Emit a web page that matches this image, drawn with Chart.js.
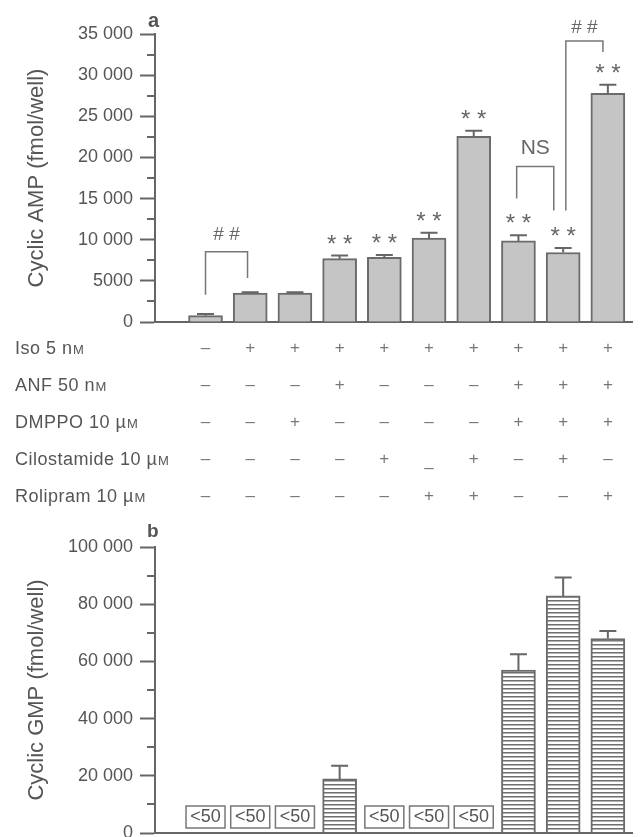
<!DOCTYPE html>
<html><head><meta charset="utf-8">
<script src="https://cdn.jsdelivr.net/npm/chart.js@4"></script>
<style>
html,body{margin:0;padding:0;background:#fff;overflow:hidden;width:642px;height:837px;}
#wrap{position:relative;width:642px;height:837px;overflow:hidden;}
canvas{position:absolute;left:0;top:0;}
</style></head><body>
<div id="wrap">
<canvas id="ca" width="642" height="520"></canvas>
<canvas id="cb" width="642" height="860"></canvas>
</div>
<script>
// ---------------- data ----------------
const groups = [1, 2, 3, 4, 5, 6, 7, 8, 9, 10];
const cAMP    = [770, 3500, 3500, 7700, 7850, 10200, 22550, 9850, 8450, 27800];
const cAMPsem = [200, 120, 120, 380, 290, 650, 690, 690, 530, 1020];
const cAMPsig = ['', '', '', '* *', '* *', '* *', '* *', '* *', '* *', '* *'];
const cGMP    = [null, null, null, 18900, null, null, null, 57000, 82900, 68000];
const cGMPsem = [0, 0, 0, 4600, 0, 0, 0, 5500, 6400, 2600];
const cGMPnote = ['<50', '<50', '<50', '', '<50', '<50', '<50', '', '', ''];

const rowLabels = [['Iso 5 n', 'M'], ['ANF 50 n', 'M'], ['DMPPO 10 \u00b5', 'M'], ['Cilostamide 10 \u00b5', 'M'], ['Rolipram 10 \u00b5', 'M']];
const rowIso   = ['-', '+', '+', '+', '+', '+', '+', '+', '+', '+'];
const rowANF   = ['-', '-', '-', '+', '-', '-', '-', '+', '+', '+'];
const rowDMPPO = ['-', '-', '+', '-', '-', '-', '-', '+', '+', '+'];
const rowCilo  = ['-', '-', '-', '-', '+', '_', '+', '-', '+', '-'];
const rowRoli  = ['-', '-', '-', '-', '-', '+', '+', '-', '-', '+'];

const yTicksA = [0, 5000, 10000, 15000, 20000, 25000, 30000, 35000];
const yTickLabelsA = ['0', '5000', '10 000', '15 000', '20 000', '25 000', '30 000', '35 000'];
const yTicksB = [0, 20000, 40000, 60000, 80000, 100000];
const yTickLabelsB = ['0', '20 000', '40 000', '60 000', '80 000', '100 000'];

// comparison brackets (x in group index units, y in data units)
const bracketsA = [
  {x1: 0.0, x2: 0.94, yl: 3300, yt: 8550, yr: 5350, text: '# #', dy: 17, size: 19},
  {x1: 6.96, x2: 7.79, yl: 15000, yt: 18900, yr: 13550, text: 'NS', dy: 18, size: 21},
  {x1: 8.06, x2: 8.89, yl: 13550, yt: 34150, yr: 32800, text: '# #', dy: 13, size: 19}
];

// ---------------- styling / helpers ----------------
const FONT = "'Liberation Sans', Arial, Helvetica, sans-serif";
Chart.defaults.font.family = FONT;
Chart.defaults.color = '#555';
const AX = '#666';

function yAxis(max, step, ticksArr, labelsArr, title) {
  return {
    min: 0, max: max,
    afterFit(s) { s.width = 155; },
    border: {display: true, color: AX, width: 2},
    grid: {display: true, drawOnChartArea: false, drawTicks: true, tickLength: 15, tickWidth: 2,
      tickColor: c => (c.tick && ticksArr.includes(c.tick.value)) ? AX : 'rgba(0,0,0,0)'},
    ticks: {stepSize: step, autoSkip: false, padding: 7, color: '#555', font: {size: 18},
      callback: v => { const i = ticksArr.indexOf(v); return i >= 0 ? labelsArr[i] : ''; }},
    title: {display: true, text: title, color: '#555', font: {size: 22}, padding: {top: 24, bottom: 0}}
  };
}
function xAxis() {
  return {
    type: 'linear', min: -1.13, max: 9.54, offset: false,
    afterFit(s) { s.height = 0; },
    border: {display: true, color: AX, width: 2},
    grid: {display: false, offset: false}, ticks: {display: false}
  };
}
function minorTicks(ticksArr) {
  return {id: 'minor', afterDraw(chart) {
    const s = chart.scales.y, ctx = chart.ctx;
    ctx.save(); ctx.strokeStyle = AX; ctx.lineWidth = 2;
    s.ticks.forEach(t => {
      if (ticksArr.includes(t.value)) return;
      const y = Math.round(s.getPixelForValue(t.value));
      ctx.beginPath(); ctx.moveTo(s.right - 8, y); ctx.lineTo(s.right, y); ctx.stroke();
    });
    ctx.restore();
  }};
}
function errorBars(values, sem) {
  return {id: 'errbars', afterDatasetsDraw(chart) {
    const meta = chart.getDatasetMeta(0), ys = chart.scales.y, ctx = chart.ctx;
    ctx.save(); ctx.strokeStyle = AX; ctx.lineWidth = 2;
    meta.data.forEach((bar, i) => {
      if (values[i] == null || !sem[i]) return;
      const yt = ys.getPixelForValue(values[i] + sem[i]);
      ctx.beginPath();
      ctx.moveTo(bar.x, bar.y); ctx.lineTo(bar.x, yt);
      ctx.moveTo(bar.x - 8.5, yt); ctx.lineTo(bar.x + 8.5, yt);
      ctx.stroke();
    });
    ctx.restore();
  }};
}
function stripePattern() {
  const c = document.createElement('canvas'); c.width = 8; c.height = 4;
  const g = c.getContext('2d');
  g.fillStyle = '#fff'; g.fillRect(0, 0, 8, 4);
  g.fillStyle = '#6f6f6f'; g.fillRect(0, 0, 8, 1);
  g.fillStyle = '#b5b5b5'; g.fillRect(0, 1, 8, 1);
  return document.getElementById('cb').getContext('2d').createPattern(c, 'repeat');
}

// ---------------- panel a ----------------
const annotA = {id: 'annotA', afterDraw(chart) {
  const ctx = chart.ctx, xs = chart.scales.x, ys = chart.scales.y;
  ctx.save();
  // significance stars
  ctx.fillStyle = '#666'; ctx.textAlign = 'center'; ctx.textBaseline = 'alphabetic';
  ctx.font = '24px ' + FONT;
  groups.forEach((g, i) => {
    if (!cAMPsig[i]) return;
    const yt = ys.getPixelForValue(cAMP[i] + cAMPsem[i]);
    ctx.fillText(cAMPsig[i], xs.getPixelForValue(i), yt - 4);
  });
  // brackets
  ctx.strokeStyle = '#777'; ctx.lineWidth = 1.5;
  bracketsA.forEach(b => {
    const x1 = xs.getPixelForValue(b.x1), x2 = xs.getPixelForValue(b.x2);
    const yt = ys.getPixelForValue(b.yt);
    ctx.beginPath();
    ctx.moveTo(x1, ys.getPixelForValue(b.yl)); ctx.lineTo(x1, yt);
    ctx.lineTo(x2, yt); ctx.lineTo(x2, ys.getPixelForValue(b.yr));
    ctx.stroke();
    ctx.font = b.size + 'px ' + FONT; ctx.textBaseline = 'middle'; ctx.fillStyle = '#666';
    ctx.fillText(b.text, (x1 + x2) / 2, yt - b.dy);
  });
  // panel letter
  ctx.fillStyle = '#555'; ctx.textAlign = 'left'; ctx.textBaseline = 'alphabetic';
  ctx.font = 'bold 20px ' + FONT;
  ctx.fillText('a', 148, 27);
  // treatment table
  const rows = [rowIso, rowANF, rowDMPPO, rowCilo, rowRoli];
  rows.forEach((row, r) => {
    const y = 347 + r * 37;
    ctx.fillStyle = '#555'; ctx.textAlign = 'left'; ctx.textBaseline = 'alphabetic';
    ctx.font = '18px ' + FONT;
    try { ctx.letterSpacing = '0.5px'; } catch (e) {}
    ctx.fillText(rowLabels[r][0], 15, y + 6.5);
    const w = ctx.measureText(rowLabels[r][0]).width;
    ctx.font = '13px ' + FONT;
    ctx.fillText(rowLabels[r][1], 15 + w + 0.5, y + 6.5);
    try { ctx.letterSpacing = '0px'; } catch (e) {}
    ctx.fillStyle = '#777'; ctx.textAlign = 'center'; ctx.font = '17px ' + FONT;
    row.forEach((s, i) => {
      const x = xs.getPixelForValue(i);
      if (s === '+') ctx.fillText('+', x, y + 6);
      else if (s === '-') ctx.fillText('\u2013', x, y + 5.5);
      else ctx.fillText('\u2013', x, y + 14.5);
    });
  });
  ctx.restore();
}};

new Chart(document.getElementById('ca'), {
  type: 'bar',
  data: {datasets: [{
    data: groups.map((g, i) => ({x: i, y: cAMP[i]})),
    backgroundColor: '#c5c5c5', borderColor: '#6b6b6b', borderWidth: 2, barThickness: 34
  }]},
  options: {
    responsive: false, animation: false,
    layout: {padding: {left: 0, right: 10, top: 34, bottom: 198}},
    plugins: {legend: {display: false}, tooltip: {enabled: false}},
    scales: {x: xAxis(), y: yAxis(35000, 2500, yTicksA, yTickLabelsA, 'Cyclic AMP (fmol/well)')}
  },
  plugins: [minorTicks(yTicksA), errorBars(cAMP, cAMPsem), annotA]
});

// ---------------- panel b ----------------
const annotB = {id: 'annotB', afterDraw(chart) {
  const ctx = chart.ctx, xs = chart.scales.x, ys = chart.scales.y;
  const base = ys.getPixelForValue(0);
  ctx.save();
  cGMPnote.forEach((t, i) => {
    if (!t) return;
    const x = xs.getPixelForValue(i);
    ctx.strokeStyle = '#777'; ctx.lineWidth = 1.5;
    ctx.strokeRect(x - 19.5, base - 27, 39, 22);
    ctx.fillStyle = '#555'; ctx.font = '18px ' + FONT; ctx.textAlign = 'center'; ctx.textBaseline = 'middle';
    ctx.fillText(t, x, base - 15.5);
  });
  ctx.fillStyle = '#555'; ctx.textAlign = 'left'; ctx.textBaseline = 'alphabetic';
  ctx.font = 'bold 19px ' + FONT;
  ctx.fillText('b', 147, 537);
  ctx.restore();
}};

new Chart(document.getElementById('cb'), {
  type: 'bar',
  data: {datasets: [{
    data: groups.map((g, i) => ({x: i, y: cGMP[i]})),
    backgroundColor: stripePattern(), borderColor: '#6b6b6b', borderWidth: 2, barThickness: 34
  }]},
  options: {
    responsive: false, animation: false,
    layout: {padding: {left: 0, right: 10, top: 547, bottom: 27}},
    plugins: {legend: {display: false}, tooltip: {enabled: false}},
    scales: {x: xAxis(), y: yAxis(100000, 10000, yTicksB, yTickLabelsB, 'Cyclic GMP (fmol/well)')}
  },
  plugins: [minorTicks(yTicksB), errorBars(cGMP, cGMPsem), annotB]
});
</script>
</body></html>
